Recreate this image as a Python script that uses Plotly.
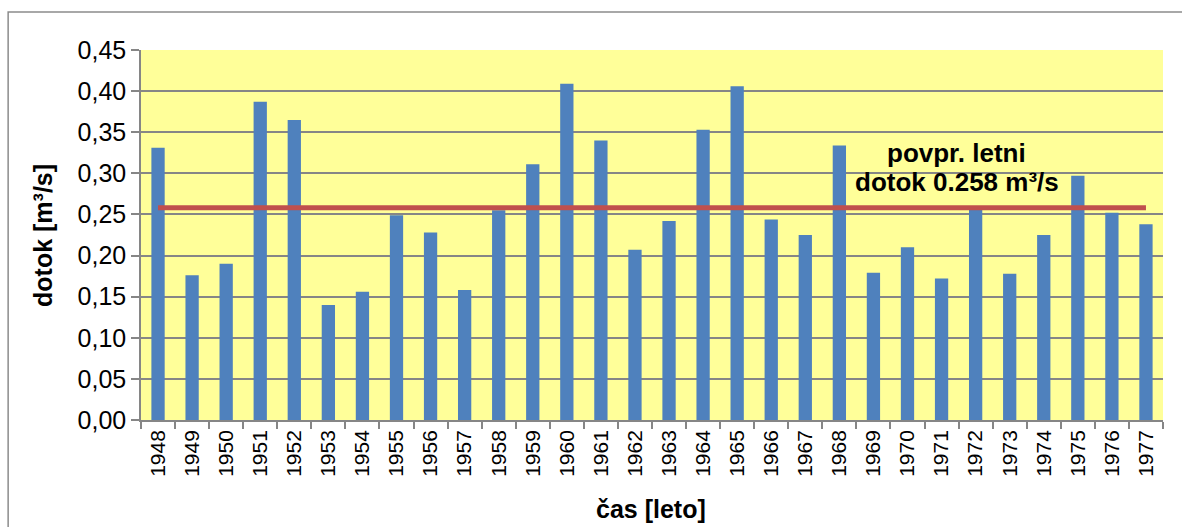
import plotly.graph_objects as go

years = [str(y) for y in range(1948, 1978)]
dotok = [0.331, 0.176, 0.190, 0.387, 0.365, 0.140, 0.156, 0.249, 0.228, 0.158,
         0.255, 0.311, 0.409, 0.340, 0.207, 0.242, 0.353, 0.406, 0.244, 0.225,
         0.334, 0.179, 0.210, 0.172, 0.256, 0.178, 0.225, 0.297, 0.252, 0.238]
avg_dotok = 0.258
y_ticks = [0.0, 0.05, 0.10, 0.15, 0.20, 0.25, 0.30, 0.35, 0.40, 0.45]

FONT = "Arial, Liberation Sans, sans-serif"
GRID = "#868686"

fig = go.Figure()
fig.add_trace(go.Bar(x=years, y=dotok, marker=dict(color="#4F81BD", line=dict(width=0)),
                     showlegend=False))
fig.add_trace(go.Scatter(x=years, y=[avg_dotok] * len(years), mode="lines",
                         line=dict(color="#C0504D", width=5), showlegend=False))

fig.update_layout(
    width=1182, height=527,
    margin=dict(l=141, r=19, t=50, b=107),
    paper_bgcolor="white", plot_bgcolor="#FFFF99",
    bargap=0.61,
    separators=", ",
    font=dict(family=FONT, color="black"),
    xaxis=dict(type="category", tickangle=-90, tickson="boundaries", ticks="outside",
               ticklen=7, tickcolor=GRID, tickwidth=1.5, showline=True, linecolor=GRID,
               linewidth=1.5, showgrid=False, tickfont=dict(size=21, family=FONT),
               range=[-0.5, len(years) - 0.5]),
    yaxis=dict(range=[0, 0.45], tickvals=y_ticks, tickformat=".2f", ticks="outside",
               ticklen=8, tickcolor=GRID, tickwidth=1.5, showline=True, linecolor=GRID,
               linewidth=1.5, showgrid=True, gridcolor=GRID, gridwidth=1.5,
               zeroline=False, tickfont=dict(size=25, family=FONT)),
    annotations=[
        dict(text="<b>dotok [m³/s]</b>", xref="paper", yref="paper", x=-0.0959, y=0.5,
             textangle=-90, showarrow=False, xanchor="center", yanchor="middle",
             font=dict(size=25, family=FONT)),
        dict(text="<b>čas [leto]</b>", xref="paper", yref="paper", x=0.499, y=-0.2405,
             showarrow=False, xanchor="center", yanchor="middle",
             font=dict(size=25, family=FONT)),
        dict(text="<b>povpr. letni</b>", xref="paper", yref="paper",
             x=0.798, y=0.7216, showarrow=False, xanchor="center", yanchor="middle",
             font=dict(size=26, family=FONT)),
        dict(text="<b>dotok 0.258 m³/s</b>", xref="paper", yref="paper",
             x=0.798, y=0.643, showarrow=False, xanchor="center", yanchor="middle",
             font=dict(size=26, family=FONT)),
    ],
    shapes=[
        dict(type="rect", xref="paper", yref="paper", x0=-0.130, y0=-0.5, x1=1.2, y1=1.103,
             line=dict(color="#8C8C8C", width=1.5), layer="below"),
    ],
)

fig.write_html("out.html", config={"displayModeBar": False},
               post_script="document.body.style.margin='0px';document.body.style.overflow='hidden';")
